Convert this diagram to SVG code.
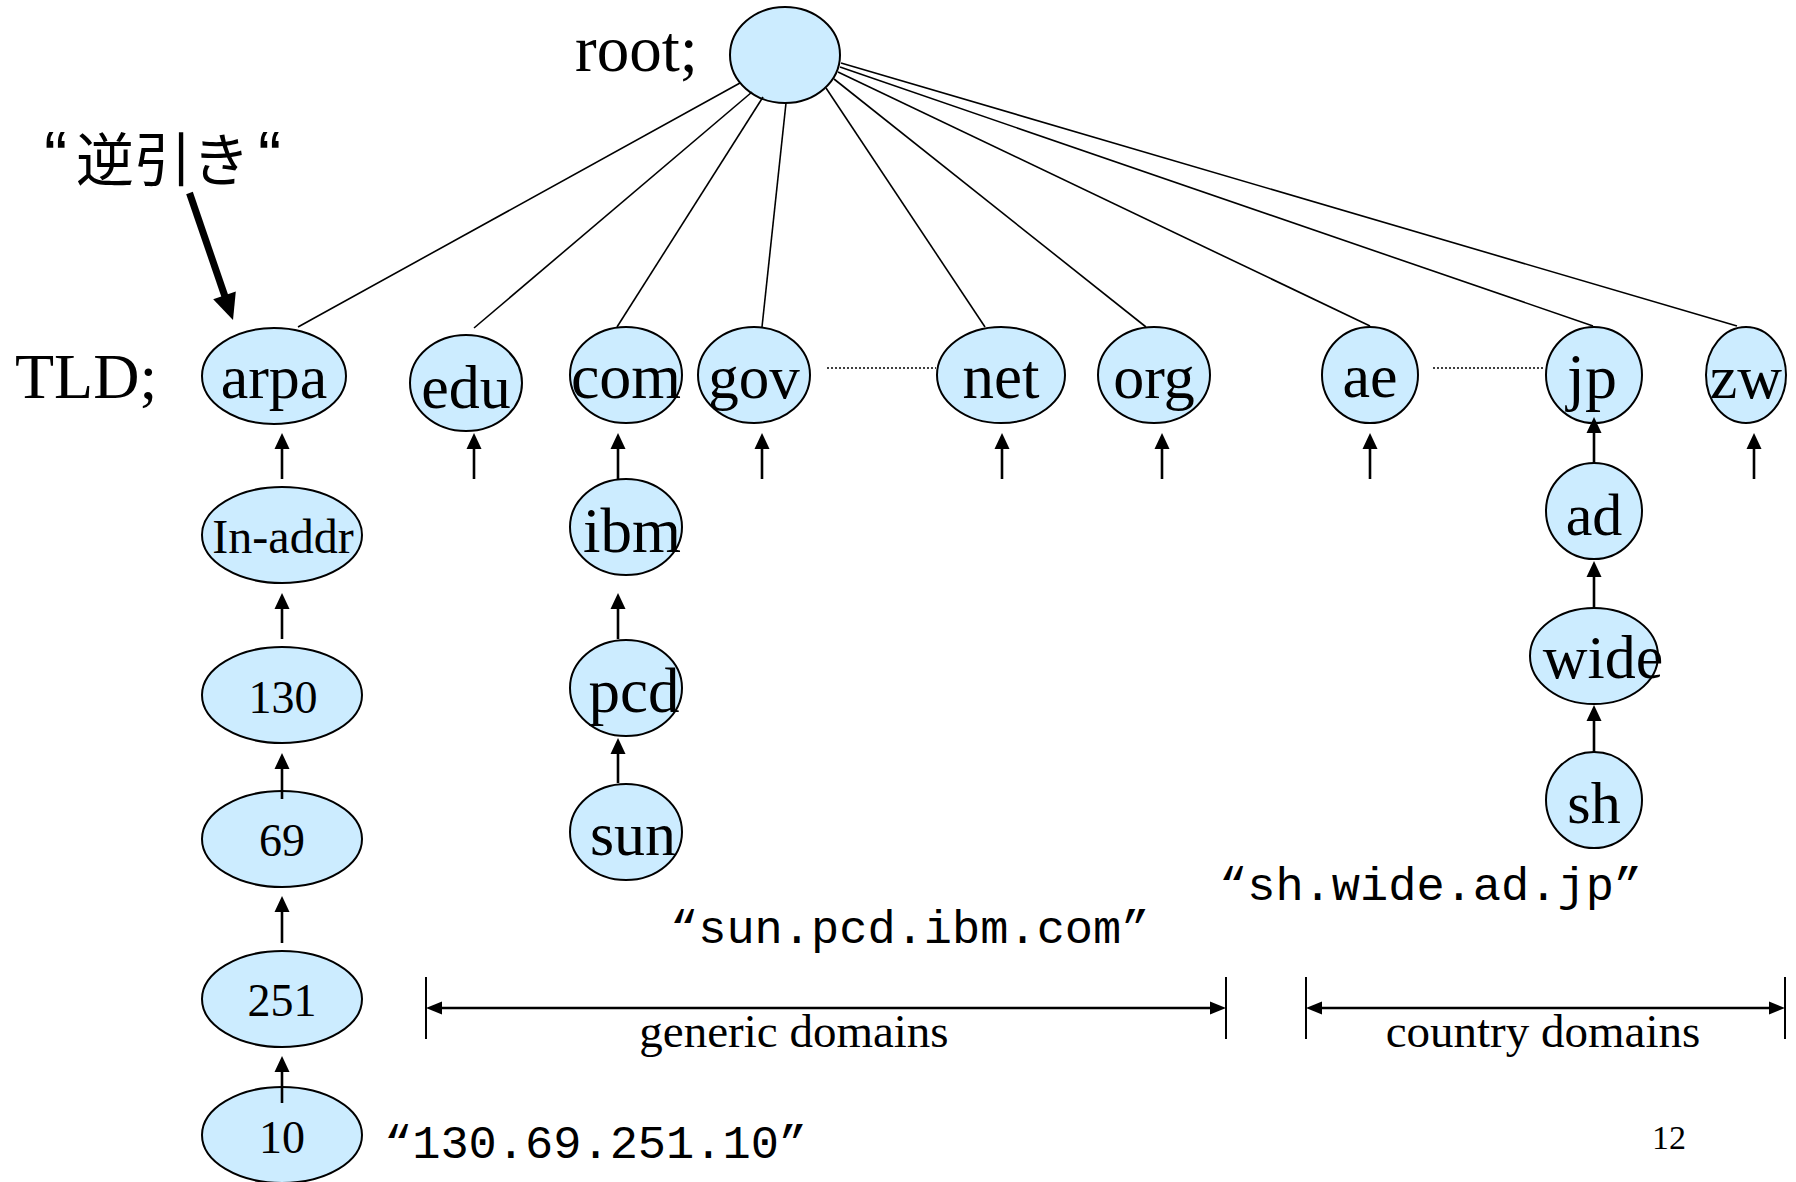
<svg xmlns="http://www.w3.org/2000/svg" width="1796" height="1182" viewBox="0 0 1796 1182">
  <style>
    .node ellipse { fill: #CCECFF; stroke: #000; stroke-width: 2; }
    .lbl { font-family: "Liberation Serif", "Times New Roman", serif; text-anchor: middle; fill: #000; }
    .plain { font-family: "Liberation Serif", "Times New Roman", serif; fill: #000; }
    .mono { font-family: "Liberation Mono", "Courier New", monospace; font-size: 47px; fill: #000; }
    .edge { stroke: #000; stroke-width: 1.6; fill: none; }
    .up { stroke: #000; stroke-width: 2.6; fill: none; marker-end: url(#ah); }
    .dots { stroke: #000; stroke-width: 1.6; stroke-dasharray: 2 2; fill: none; }
    .span { stroke: #000; stroke-width: 2.6; fill: none; marker-start: url(#ah2); marker-end: url(#ah2); }
    .bar { stroke: #000; stroke-width: 2; }
  </style>
  <defs>
    <marker id="ah" markerUnits="userSpaceOnUse" markerWidth="16" markerHeight="16" viewBox="0 0 16 16" refX="4" refY="8" orient="auto">
      <path d="M0,0.5 L16,8 L0,15.5 z" fill="#000"/>
    </marker>
    <marker id="ah2" markerUnits="userSpaceOnUse" markerWidth="16" markerHeight="16" viewBox="0 0 16 16" refX="4" refY="8" orient="auto-start-reverse">
      <path d="M0,1.5 L16,8 L0,14.5 z" fill="#000"/>
    </marker>
  </defs>

  <rect width="1796" height="1182" fill="#fff"/>

  <!-- level captions -->
  <text class="plain" x="575" y="71" font-size="65">root;</text>
  <text class="plain" x="15" y="398" font-size="64">TLD;</text>

  <!-- reverse-lookup callout -->
  <g id="reverse-note">
    <text font-family="Liberation Sans, Noto Sans CJK JP, sans-serif" font-size="58" fill="#000" y="181"><tspan x="44" font-family="Liberation Sans, sans-serif" font-size="70">“</tspan><tspan x="76" font-family="Noto Sans CJK JP, sans-serif">逆引き</tspan><tspan x="258" font-family="Liberation Sans, sans-serif" font-size="70">“</tspan></text>
    <line x1="189.5" y1="193" x2="225.5" y2="298" stroke="#000" stroke-width="7"/>
    <polygon points="213.2,299.3 235.8,291.5 233,320" fill="#000"/>
  </g>

  <!-- tree nodes -->
  <g id="root" class="node"><ellipse cx="785" cy="55" rx="55" ry="48"/></g>

  <g id="arpa" class="node"><ellipse cx="274" cy="376" rx="72" ry="48"/><text class="lbl" x="274" y="398" font-size="62">arpa</text></g>
  <g id="edu" class="node"><ellipse cx="466" cy="383" rx="56" ry="48"/><text class="lbl" x="466" y="408" font-size="62">edu</text></g>
  <g id="com" class="node"><ellipse cx="626" cy="375" rx="56" ry="48"/><text class="lbl" x="626" y="398" font-size="64">com</text></g>
  <g id="gov" class="node"><ellipse cx="754" cy="375" rx="56" ry="48"/><text class="lbl" x="754" y="398" font-size="61">gov</text></g>
  <g id="net" class="node"><ellipse cx="1001" cy="375" rx="64" ry="48"/><text class="lbl" x="1001" y="398" font-size="63">net</text></g>
  <g id="org" class="node"><ellipse cx="1154" cy="375" rx="56" ry="48"/><text class="lbl" x="1154" y="398" font-size="62">org</text></g>
  <g id="ae" class="node"><ellipse cx="1370" cy="375" rx="48" ry="48"/><text class="lbl" x="1370" y="397" font-size="62">ae</text></g>
  <g id="jp" class="node"><ellipse cx="1594" cy="375" rx="48" ry="48"/><text class="lbl" x="1592" y="398" font-size="64">jp</text></g>
  <g id="zw" class="node"><ellipse cx="1746" cy="375" rx="40" ry="48"/><text class="lbl" x="1746" y="398" font-size="62">zw</text></g>

  <g id="in-addr" class="node"><ellipse cx="282" cy="535" rx="80" ry="48"/><text class="lbl" x="283" y="553" font-size="48">In-addr</text></g>
  <g id="n130" class="node"><ellipse cx="282" cy="695" rx="80" ry="48"/><text class="lbl" x="283" y="713" font-size="46">130</text></g>
  <g id="n69" class="node"><ellipse cx="282" cy="839" rx="80" ry="48"/><text class="lbl" x="282" y="856" font-size="46">69</text></g>
  <g id="n251" class="node"><ellipse cx="282" cy="999" rx="80" ry="48"/><text class="lbl" x="282" y="1016" font-size="46">251</text></g>
  <g id="n10" class="node"><ellipse cx="282" cy="1135" rx="80" ry="48"/><text class="lbl" x="282" y="1153" font-size="46">10</text></g>

  <g id="ibm" class="node"><ellipse cx="626" cy="527" rx="56" ry="48"/><text class="lbl" x="632" y="552" font-size="63">ibm</text></g>
  <g id="pcd" class="node"><ellipse cx="626" cy="688" rx="56" ry="48"/><text class="lbl" x="634" y="712" font-size="63">pcd</text></g>
  <g id="sun" class="node"><ellipse cx="626" cy="832" rx="56" ry="48"/><text class="lbl" x="633" y="855" font-size="62">sun</text></g>

  <g id="ad" class="node"><ellipse cx="1594" cy="511" rx="48" ry="48"/><text class="lbl" x="1594" y="535" font-size="60">ad</text></g>
  <g id="wide" class="node"><ellipse cx="1594" cy="656" rx="64" ry="48"/><text class="lbl" x="1603" y="678" font-size="62">wide</text></g>
  <g id="sh" class="node"><ellipse cx="1594" cy="800" rx="48" ry="48"/><text class="lbl" x="1594" y="823" font-size="60">sh</text></g>

  <!-- connectors -->
  <g id="connectors">
    <!-- root to top-level domains -->
    <line class="edge" x1="740" y1="83" x2="298" y2="327"/>
    <line class="edge" x1="752" y1="92" x2="474" y2="328"/>
    <line class="edge" x1="763" y1="97" x2="617" y2="327"/>
    <line class="edge" x1="786" y1="103" x2="762" y2="327"/>
    <line class="edge" x1="826" y1="88" x2="985" y2="327"/>
    <line class="edge" x1="834" y1="79" x2="1146" y2="327"/>
    <line class="edge" x1="838" y1="72" x2="1370" y2="326"/>
    <line class="edge" x1="840" y1="67" x2="1593" y2="326"/>
    <line class="edge" x1="841" y1="63" x2="1737" y2="326"/>

    <!-- elided siblings -->
    <line class="dots" x1="827" y1="368" x2="936" y2="368"/>
    <line class="dots" x1="1433" y1="368" x2="1545" y2="368"/>

    <!-- child-to-parent arrows -->
    <path class="up" d="M282,479 V445"/>
    <path class="up" d="M474,479 V445"/>
    <path class="up" d="M618,479 V445"/>
    <path class="up" d="M762,479 V445"/>
    <path class="up" d="M1002,479 V445"/>
    <path class="up" d="M1162,479 V445"/>
    <path class="up" d="M1370,479 V445"/>
    <path class="up" d="M1594,463 V429"/>
    <path class="up" d="M1754,479 V445"/>

    <path class="up" d="M282,639 V605"/>
    <path class="up" d="M282,799 V765"/>
    <path class="up" d="M282,943 V908"/>
    <path class="up" d="M282,1103 V1068"/>

    <path class="up" d="M618,639 V605"/>
    <path class="up" d="M618,783 V750"/>

    <path class="up" d="M1594,607 V573"/>
    <path class="up" d="M1594,752 V717"/>

    <!-- domain range spans -->
    <line class="bar" x1="426" y1="977" x2="426" y2="1039"/>
    <line class="bar" x1="1226" y1="977" x2="1226" y2="1039"/>
    <path class="span" d="M438,1008 H1214"/>
    <line class="bar" x1="1306" y1="977" x2="1306" y2="1039"/>
    <line class="bar" x1="1785" y1="977" x2="1785" y2="1039"/>
    <path class="span" d="M1318,1008 H1773"/>
  </g>

  <!-- captions -->
  <text class="mono" x="670" y="943">“sun.pcd.ibm.com”</text>
  <text class="mono" x="1219" y="900">“sh.wide.ad.jp”</text>
  <text class="mono" x="384" y="1158">“130.69.251.10”</text>
  <text class="lbl" x="794" y="1047" font-size="47">generic domains</text>
  <text class="lbl" x="1543" y="1047" font-size="47">country domains</text>
  <text class="plain" x="1652" y="1149" font-size="34">12</text>
</svg>
